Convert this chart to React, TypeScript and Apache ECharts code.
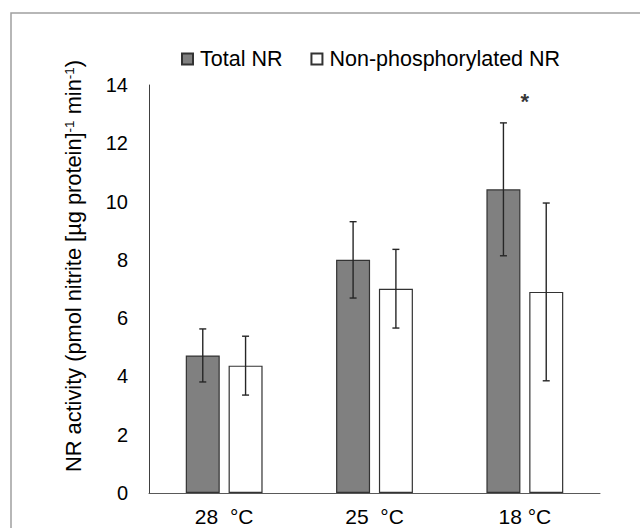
import React, { useEffect, useRef } from "react";
import * as echarts from "echarts";

const categories = ["28  °C", "25  °C", "18 °C"];
const totalNR = [4.72, 8.0, 10.42];
const totalErr = [0.91, 1.31, 2.28];
const nonPhosNR = [4.37, 7.01, 6.9];
const nonPhosErr = [1.01, 1.35, 3.05];
const sigMarks = ["", "", "*"];
const sigLevel = [null, null, 13.45];
const yTicks = { min: 0, max: 14, interval: 2 };

const FONT = "Liberation Sans, Arial, sans-serif";

function errorSeries(name: string, means: number[], errs: number[], offset: number) {
  return {
    type: "custom",
    name,
    z: 10,
    silent: true,
    data: means.map((m, i) => [i, m, errs[i]]),
    renderItem: (params: any, api: any) => {
      const idx = api.value(0);
      const mean = api.value(1);
      const e = api.value(2);
      const top = api.coord([idx, mean + e]);
      const bot = api.coord([idx, mean - e]);
      const x = top[0] + offset;
      const cap = 3.5;
      const style = { stroke: "#262626", lineWidth: 1.4 };
      return {
        type: "group",
        children: [
          { type: "line", shape: { x1: x, y1: top[1], x2: x, y2: bot[1] }, style },
          { type: "line", shape: { x1: x - cap, y1: top[1], x2: x + cap, y2: top[1] }, style },
          { type: "line", shape: { x1: x - cap, y1: bot[1], x2: x + cap, y2: bot[1] }, style },
        ],
      };
    },
  };
}

export default function App() {
  const ref = useRef<HTMLDivElement>(null);
  useEffect(() => {
    if (!ref.current) return;
    const chart = echarts.init(ref.current, undefined, { renderer: "svg" });
    chart.setOption({
      animation: false,
      backgroundColor: "#ffffff",
      textStyle: { fontFamily: FONT },
      graphic: [
        {
          type: "rect",
          shape: { x: 11, y: 13, width: 700, height: 600 },
          style: { fill: "none", stroke: "#a0a0a0", lineWidth: 1.5 },
          z: -1,
        },
      ],
      legend: {
        left: 176,
        top: 43,
        itemWidth: 11,
        itemHeight: 11,
        itemGap: 28,
        icon: "rect",
        data: ["Total NR", "Non-phosphorylated NR"],
        textStyle: { fontSize: 21.5, color: "#000", fontFamily: FONT, padding: [0, 0, 0, 2] },
      },
      grid: { left: 149, right: 40, top: 85, bottom: 35, containLabel: false },
      xAxis: {
        type: "category",
        data: categories,
        axisLine: { lineStyle: { color: "#595959", width: 1 } },
        axisTick: { show: false },
        axisLabel: { fontSize: 21, color: "#000", margin: 13, fontFamily: FONT },
      },
      yAxis: {
        type: "value",
        min: yTicks.min,
        max: yTicks.max,
        interval: yTicks.interval,
        splitLine: { show: false },
        axisLine: { show: true, lineStyle: { color: "#404040", width: 1 } },
        axisTick: { show: false },
        axisLabel: { fontSize: 20, color: "#000", margin: 21, fontFamily: FONT },
        name: "NR activity (pmol nitrite [µg protein]{sup|-1} min{sup|-1})",
        nameLocation: "middle",
        nameRotate: 90,
        nameGap: 64,
        nameTextStyle: {
          fontSize: 21.8,
          color: "#000",
          fontFamily: FONT,
          padding: [0, 0, 0, 46],
          rich: { sup: { fontSize: 13.5, color: "#000", fontFamily: FONT, padding: [0, 0, 9, 0] } },
        },
      },
      series: [
        {
          type: "bar",
          name: "Total NR",
          data: totalNR,
          barWidth: 34,
          barGap: "26%",
          itemStyle: { color: "#808080", borderColor: "#333333", borderWidth: 1.2 },
        },
        {
          type: "bar",
          name: "Non-phosphorylated NR",
          data: nonPhosNR,
          barWidth: 34,
          itemStyle: { color: "#ffffff", borderColor: "#333333", borderWidth: 1.2 },
        },
        errorSeries("err-total", totalNR, totalErr, -21.4),
        errorSeries("err-nonphos", nonPhosNR, nonPhosErr, 21.4),
        {
          type: "scatter",
          name: "sig",
          symbolSize: 1,
          itemStyle: { color: "rgba(0,0,0,0)" },
          data: sigLevel.map((v, i) => (v === null ? null : [i, v])).filter((d) => d !== null),
          label: {
            show: true,
            position: "inside",
            formatter: (p: any) => sigMarks[p.data[0]],
            fontSize: 22,
            fontWeight: "bold",
            color: "#000000",
            textBorderWidth: 0,
            fontFamily: FONT,
          },
          silent: true,
        },
      ],
    });
    return () => chart.dispose();
  }, []);
  return (
    <div
      ref={ref}
      style={{ position: "fixed", left: 0, top: 0, width: 640, height: 528, background: "#fff" }}
    />
  );
}
